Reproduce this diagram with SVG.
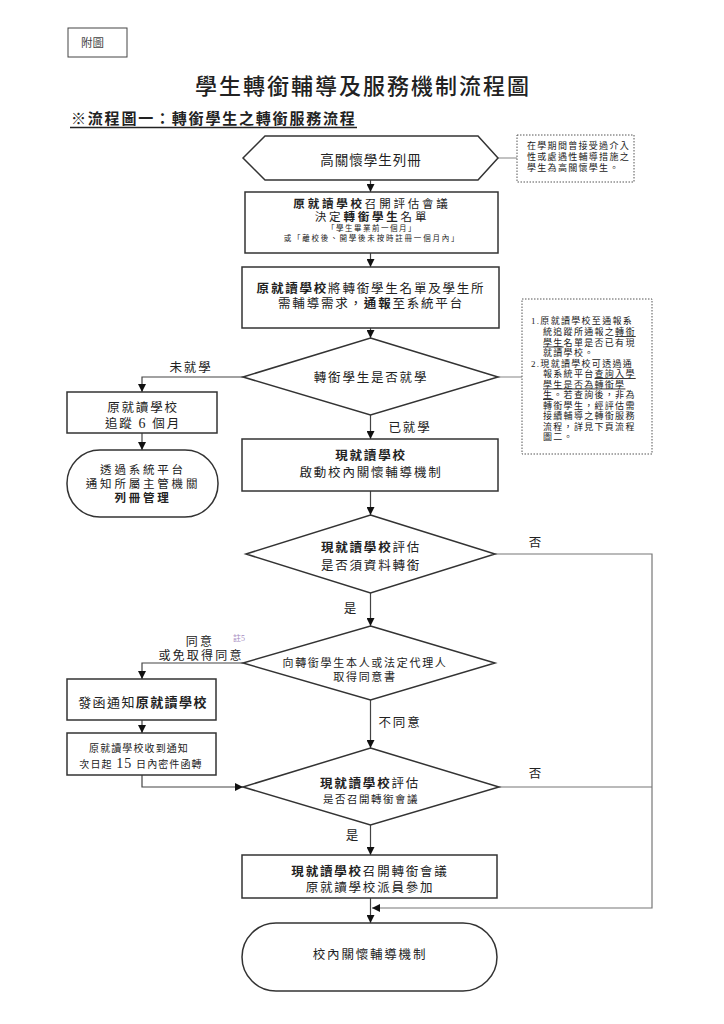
<svg xmlns="http://www.w3.org/2000/svg" width="724" height="1024" viewBox="0 0 724 1024">
<defs>
<style>
.t{font-family:"Liberation Serif","Noto Sans CJK TC","Noto Sans CJK SC",serif;fill:#222;}
.m{font-size:12.5px;letter-spacing:1.8px;text-anchor:middle;}
.s{font-size:11.5px;letter-spacing:2.8px;text-anchor:middle;}
.n{font-size:9px;letter-spacing:1.3px;}
.b{font-weight:bold;}
.box{fill:#fff;stroke:#333;stroke-width:1.5;}
.note{fill:#fff;stroke:#555;stroke-width:1;stroke-dasharray:1.5 1.5;}
.c{fill:none;stroke:#444;stroke-width:1.2;}
.g{fill:none;stroke:#999;stroke-width:1.2;}
.u{text-decoration:underline;}
</style>
<marker id="ah" viewBox="0 0 8 8" markerWidth="8" markerHeight="8" refX="8" refY="4" orient="auto" markerUnits="userSpaceOnUse">
<path d="M0,0 L8,4 L0,8 z" fill="#111"/>
</marker>
</defs>
<rect width="724" height="1024" fill="#fff"/>

<g id="header">
<rect x="68" y="28" width="59" height="29" fill="#fff" stroke="#444" stroke-width="1"/>
<text class="t" x="81" y="47" style="font-size:11.5px;fill:#444">附圖</text>
<text class="t" x="363" y="93.5" style="font-size:22px;letter-spacing:2px;text-anchor:middle;font-weight:500">學生轉銜輔導及服務機制流程圖</text>
<text class="t b" x="71" y="123.5" style="font-size:15px;letter-spacing:1.8px">※流程圖一：轉銜學生之轉銜服務流程</text>
<line x1="70" y1="127.5" x2="357" y2="127.5" stroke="#222" stroke-width="1.6"/>
</g>

<g id="connectors">
<line class="g" x1="498" y1="158" x2="517" y2="158"/>
<line class="g" x1="498" y1="377" x2="522" y2="377"/>
<line class="c" x1="370.5" y1="180" x2="370.5" y2="192" marker-end="url(#ah)"/>
<line class="c" x1="370.5" y1="253" x2="370.5" y2="267" marker-end="url(#ah)"/>
<line class="c" x1="370.5" y1="328" x2="370.5" y2="338" marker-end="url(#ah)"/>
<line class="c" x1="370.5" y1="415" x2="370.5" y2="439" marker-end="url(#ah)"/>
<polyline class="c" points="243,377 142,377 142,392" marker-end="url(#ah)"/>
<line class="c" x1="142" y1="433" x2="142" y2="450" marker-end="url(#ah)"/>
<line class="c" x1="370.5" y1="491" x2="370.5" y2="515" marker-end="url(#ah)"/>
<line class="c" x1="370.5" y1="593" x2="370.5" y2="626" marker-end="url(#ah)"/>
<polyline class="c" points="243,663 142,663 142,679" marker-end="url(#ah)"/>
<line class="c" x1="142" y1="720" x2="142" y2="733" marker-end="url(#ah)"/>
<polyline class="c" points="142,775 142,787 243,787" marker-end="url(#ah)"/>
<line class="c" x1="370.5" y1="700" x2="370.5" y2="748" marker-end="url(#ah)"/>
<line class="c" x1="370.5" y1="825" x2="370.5" y2="855" marker-end="url(#ah)"/>
<line class="c" x1="370.5" y1="898" x2="370.5" y2="923" marker-end="url(#ah)"/>
<polyline class="g" style="stroke:#777" points="495,554 652,554 652,908 372,908" marker-end="url(#ah)"/>
<line class="g" style="stroke:#777" x1="499" y1="787" x2="652" y2="787"/>
<text class="t" x="191" y="372" style="font-size:12.5px;letter-spacing:1.8px;text-anchor:middle">未就學</text>
<text class="t" x="410" y="432" style="font-size:12.5px;letter-spacing:1.8px;text-anchor:middle">已就學</text>
<text class="t" x="535" y="547" style="font-size:12.5px;text-anchor:middle">否</text>
<text class="t" x="350" y="613" style="font-size:12.5px;text-anchor:middle">是</text>
<text class="t" x="200" y="645.5" style="font-size:12px;letter-spacing:2.2px;text-anchor:middle">同意</text>
<text class="t" x="233" y="641" style="font-size:8px;fill:#a58cbf">註5</text>
<text class="t" x="201" y="660" style="font-size:12px;letter-spacing:2.2px;text-anchor:middle">或免取得同意</text>
<text class="t" x="400" y="727" style="font-size:12.5px;letter-spacing:1.8px;text-anchor:middle">不同意</text>
<text class="t" x="535" y="778" style="font-size:12.5px;text-anchor:middle">否</text>
<text class="t" x="352" y="840" style="font-size:12.5px;text-anchor:middle">是</text>
</g>

<g id="n-hex">
<polygon class="box" points="243,158 265,136 478,136 498,158 478,180 265,180"/>
<text class="t m" x="371" y="165" style="font-size:13.5px;letter-spacing:1px">高關懷學生列冊</text>
</g>

<g id="note1">
<rect class="note" x="517" y="135" width="117" height="47"/>
<text class="t n" x="527" y="149">在學期間曾接受過介入</text>
<text class="t n" x="527" y="160">性或處遇性輔導措施之</text>
<text class="t n" x="527" y="171">學生為高關懷學生。</text>
</g>

<g id="n-box2">
<rect class="box" x="245" y="192" width="253" height="61"/>
<text class="t s" x="372" y="208"><tspan class="b">原就讀學校</tspan>召開評估會議</text>
<text class="t s" x="372" y="221">決定<tspan class="b">轉銜學生</tspan>名單</text>
<text class="t" x="372" y="230.5" style="font-size:7.5px;letter-spacing:1.5px;text-anchor:middle">「學生畢業前一個月」</text>
<text class="t" x="372" y="241" style="font-size:7.5px;letter-spacing:1.8px;text-anchor:middle">或「離校後、開學後未按時註冊一個月內」</text>
</g>

<g id="n-box3">
<rect class="box" x="242" y="267" width="257" height="61"/>
<text class="t m" x="371" y="293"><tspan class="b">原就讀學校</tspan>將轉銜學生名單及學生所</text>
<text class="t m" x="371" y="308">需輔導需求，<tspan class="b">通報</tspan>至系統平台</text>
</g>

<g id="n-dia1">
<polygon class="box" points="370.5,338 498,377 370.5,415 243,377"/>
<text class="t m" x="371" y="382">轉銜學生是否就學</text>
</g>

<g id="note2">
<rect class="note" x="522" y="299" width="130" height="155"/>
<text class="t n" x="531" y="324">1.原就讀學校至通報系</text>
<text class="t n" x="543" y="335">統追蹤所通報之<tspan class="u">轉銜</tspan></text>
<text class="t n" x="543" y="345.5"><tspan class="u">學生</tspan>名單是否已有現</text>
<text class="t n" x="543" y="356">就讀學校。</text>
<text class="t n" x="531" y="366.5">2.現就讀學校可透過通</text>
<text class="t n" x="543" y="377">報系統平台<tspan class="u">查詢入學</tspan></text>
<text class="t n u" x="543" y="387.5">學生是否為轉銜學</text>
<text class="t n" x="543" y="398"><tspan class="u">生</tspan>。若查詢後，非為</text>
<text class="t n" x="543" y="408.5">轉銜學生，經評估需</text>
<text class="t n" x="543" y="419">接續輔導之轉銜服務</text>
<text class="t n" x="543" y="429.5">流程，詳見下頁流程</text>
<text class="t n" x="543" y="440">圖二。</text>
</g>

<g id="n-box5">
<rect class="box" x="67" y="392" width="150" height="41"/>
<text class="t m" x="143" y="412">原就讀學校</text>
<text class="t m" x="143" y="428">追蹤 <tspan style="font-size:14px">6</tspan> 個月</text>
</g>

<g id="n-oval1">
<rect class="box" x="67" y="450" width="151" height="67" rx="33" ry="33"/>
<text class="t s" x="143" y="474">透過系統平台</text>
<text class="t s" x="143" y="487.5">通知所屬主管機關</text>
<text class="t s b" x="143" y="501.5">列冊管理</text>
</g>

<g id="n-box4">
<rect class="box" x="242" y="439" width="256" height="52"/>
<text class="t m b" x="371" y="460">現就讀學校</text>
<text class="t m" x="371" y="477">啟動校內關懷輔導機制</text>
</g>

<g id="n-dia2">
<polygon class="box" points="370.5,515 495,554 370.5,593 246,554"/>
<text class="t m" x="371" y="552"><tspan class="b">現就讀學校</tspan>評估</text>
<text class="t m" x="371" y="570">是否須資料轉銜</text>
</g>

<g id="n-dia3">
<polygon class="box" points="370.5,626 495,663 370.5,700 243,663"/>
<text class="t" x="365" y="666.5" style="font-size:11px;letter-spacing:1.7px;text-anchor:middle">向轉銜學生本人或法定代理人</text>
<text class="t" x="365" y="680.5" style="font-size:11px;letter-spacing:1.7px;text-anchor:middle">取得同意書</text>
</g>

<g id="n-box6">
<rect class="box" x="67" y="679" width="149" height="41"/>
<text class="t m" x="143" y="707" style="font-size:13px;letter-spacing:1.4px">發函通知<tspan class="b">原就讀學校</tspan></text>
</g>

<g id="n-box7">
<rect class="box" x="67" y="733" width="149" height="42"/>
<text class="t" x="139" y="752" style="font-size:10px;letter-spacing:1.1px;text-anchor:middle">原就讀學校收到通知</text>
<text class="t" x="141" y="768" style="font-size:10px;letter-spacing:1.1px;text-anchor:middle">次日起 <tspan style="font-size:14px">15</tspan> 日內密件函轉</text>
</g>

<g id="n-dia4">
<polygon class="box" points="370.5,748 499,787 370.5,825 243,787"/>
<text class="t m" x="370" y="788"><tspan class="b">現就讀學校</tspan>評估</text>
<text class="t" x="371" y="803" style="font-size:10.5px;letter-spacing:1.5px;text-anchor:middle">是否召開轉銜會議</text>
</g>

<g id="n-box8">
<rect class="box" x="242" y="855" width="255" height="43"/>
<text class="t m" x="370" y="876"><tspan class="b">現就讀學校</tspan>召開轉銜會議</text>
<text class="t m" x="370" y="892">原就讀學校派員參加</text>
</g>

<g id="n-end">
<rect class="box" x="242" y="923" width="255" height="68" rx="34" ry="34"/>
<text class="t m" x="370" y="959">校內關懷輔導機制</text>
</g>
</svg>
